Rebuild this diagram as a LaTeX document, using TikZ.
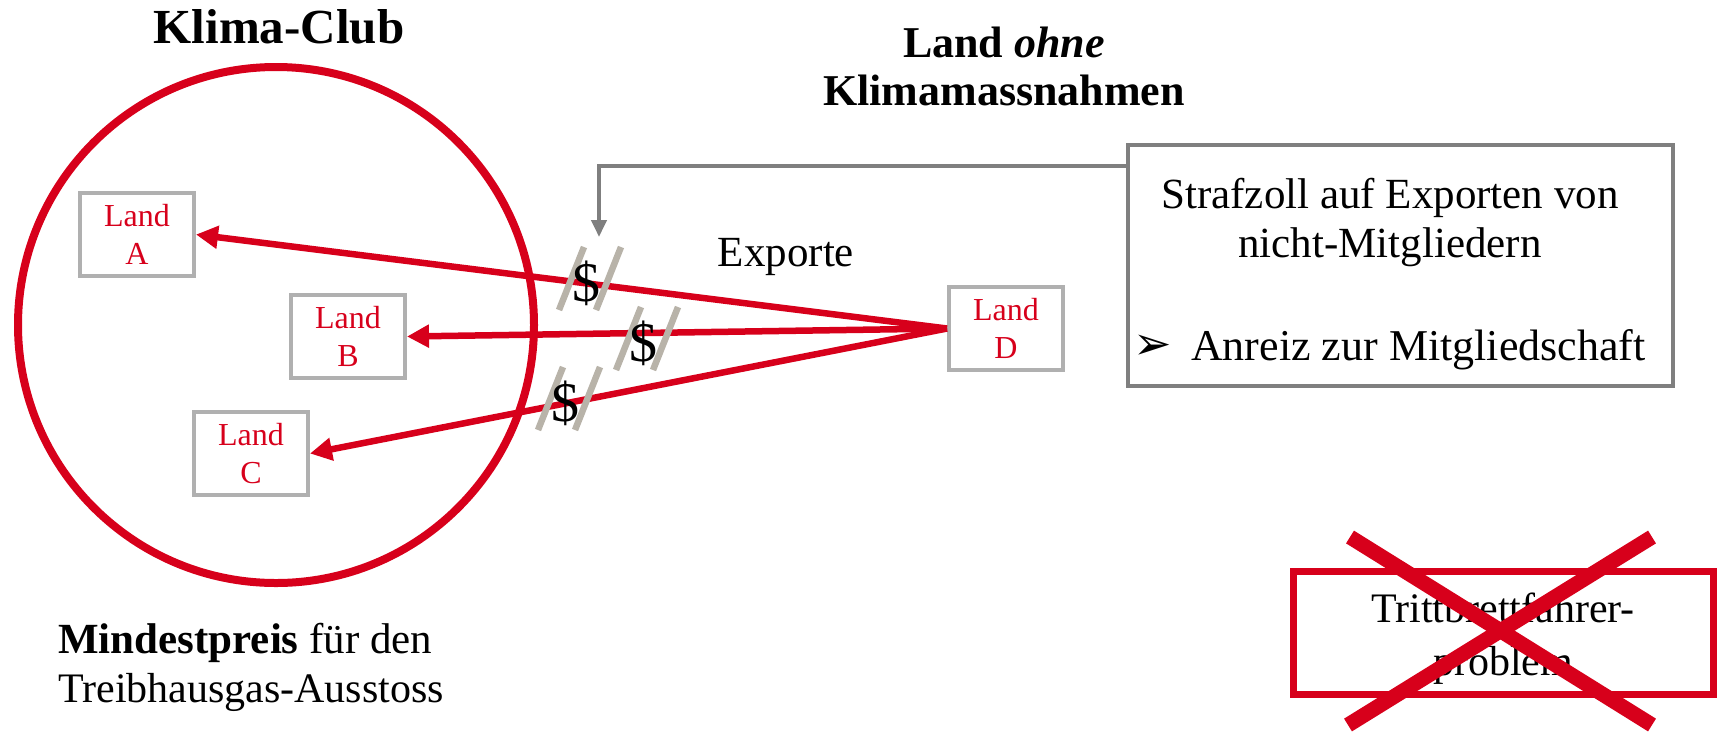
\documentclass[tikz,border=0pt]{standalone}
\usepackage{fontspec}
\setmainfont{Liberation Serif}
\newfontfamily\djv{DejaVu Sans}
\usetikzlibrary{arrows.meta}
\definecolor{clubred}{RGB}{215,0,27}
\definecolor{boxgray}{RGB}{176,176,176}
\definecolor{darkgray}{RGB}{127,127,127}
\definecolor{slashgray}{RGB}{184,179,169}
\tikzset{
  landbox/.style={draw=boxgray, line width=4pt, minimum width=114pt, minimum height=83pt,
    inner sep=0pt, text=clubred, align=center, font=\fontsize{32}{38}\selectfont},
  redarrow/.style={draw=clubred, line width=6.5pt, -{Triangle[length=22pt,width=22pt]}},
  grayarrow/.style={draw=darkgray, line width=4pt, -{Triangle[length=17pt,width=15pt]}},
  slashline/.style={draw=slashgray, line width=6.5pt},
  dollar/.style={font=\fontsize{56}{56}\selectfont, inner sep=0pt},
  bigtext/.style={font=\fontsize{43}{50}\selectfont, inner sep=0pt},
}
\begin{document}
\begin{tikzpicture}[x=1pt,y=-1pt]
\useasboundingbox (0,0) rectangle (1719,732);
% club circle
\node[circle, draw=clubred, line width=8pt, minimum size=516pt, inner sep=0pt] (club) at (276,325) {};
\node[anchor=base, inner sep=0pt, font=\fontsize{49}{49}\selectfont\bfseries] (clubtitle) at (279,43) {Klima-Club};
% titles
\node[anchor=base, inner sep=0pt, font=\fontsize{44}{48}\selectfont\bfseries] (ohne1) at (1004,57) {Land \textit{ohne}};
\node[anchor=base, inner sep=0pt, font=\fontsize{44}{48}\selectfont\bfseries] (ohne2) at (1004,105) {Klimamassnahmen};
% countries
\node[landbox] (A) at (137,234.5) {Land\\A};
\node[landbox] (B) at (348,336.5) {Land\\B};
\node[landbox] (C) at (251,453.5) {Land\\C};
\node[landbox] (D) at (1006,328.5) {Land\\D};
% export arrows
\draw[redarrow] (D.west) -- (A.east);
\draw[redarrow] (D.west) -- (B.east);
\draw[redarrow] (D.west) -- (C.east);
\node[anchor=base, inner sep=0pt, font=\fontsize{43}{43}\selectfont] (exp) at (786,266) {Exporte};
% tariffs
\coordinate (d1) at (586,283);
\coordinate (d2) at (643,343);
\coordinate (d3) at (565,403);
\foreach \d in {d1,d2,d3}{
  \draw[slashline] ([shift={(-27,27)}]\d) -- ++(25,-63);
  \draw[slashline] ([shift={(10,27)}]\d) -- ++(25,-63);
}
\node[dollar] (n1) at (d1) {\$};
\node[dollar] (n2) at (d2) {\$};
\node[dollar] (n3) at (d3) {\$};
% penalty box
\node[draw=darkgray, line width=4pt, minimum width=545pt, minimum height=241pt, inner sep=0pt] (S) at (1400.5,265.5) {};
\node[bigtext, anchor=base] (s1) at (1390,208) {Strafzoll auf Exporten von};
\node[bigtext, anchor=base] (s2) at (1390,257) {nicht-Mitgliedern};
\node[anchor=base west, inner sep=0pt, font=\fontsize{46}{46}\selectfont\djv] (bul) at (1133,359) {➢};
\node[anchor=base west, inner sep=0pt, font=\fontsize{44}{50}\selectfont] (s3) at (1191,360) {Anreiz zur Mitgliedschaft};
\coordinate (tip) at (599,237);
\draw[grayarrow] ([yshift=-23pt]S.north west) -| (tip);
% bottom left
\node[anchor=base west, inner sep=0pt, font=\fontsize{43}{43}\selectfont] (m1) at (58,653) {\textbf{Mindestpreis} für den};
\node[anchor=base west, inner sep=0pt, font=\fontsize{42}{42}\selectfont] (m2) at (58,702) {Treibhausgas-Ausstoss};
% free rider box
\node[draw=clubred, line width=7pt, minimum width=420pt, minimum height=123pt, inner sep=0pt] (T) at (1503.5,633) {};
\node[anchor=base, inner sep=0pt, font=\fontsize{42}{42}\selectfont] (t1) at (1503,622) {Trittbrettfahrer-};
\node[anchor=base, inner sep=0pt, font=\fontsize{42}{42}\selectfont] (t2) at (1503,675) {problem};
\draw[clubred, line width=15pt] ([shift={(-153.5,-96)}]T.center) -- ([shift={(148.5,92)}]T.center);
\draw[clubred, line width=15pt] ([shift={(148.5,-96)}]T.center) -- ([shift={(-155.5,92)}]T.center);
\end{tikzpicture}
\end{document}
